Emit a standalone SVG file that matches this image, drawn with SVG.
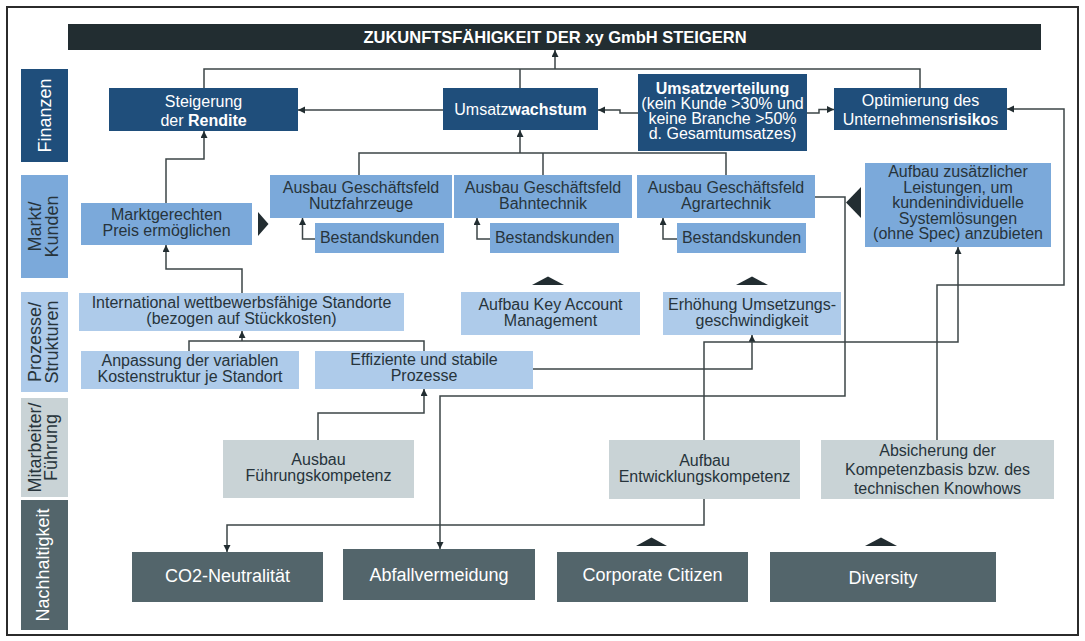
<svg xmlns="http://www.w3.org/2000/svg" width="1085" height="641" viewBox="0 0 1085 641">
<defs>
<style>
text{font-family:"Liberation Sans",Arial,sans-serif;}
.t{font-size:16px;fill:#27343b;text-anchor:middle}
.w{font-size:16px;fill:#ffffff;text-anchor:middle}
.lab{font-size:18px;fill:#27343b;text-anchor:middle}
.labw{font-size:18px;fill:#ffffff;text-anchor:middle}
.big{font-size:18px;fill:#ffffff;text-anchor:middle}
.b{font-weight:bold}
.db{fill:#1f4e7b}
.mb{fill:#7ba9da}
.lb{fill:#aecbea}
.lg{fill:#c9d3d6}
.ds{fill:#53656b}
.c{fill:none;stroke:#3d4547;stroke-width:1.5}
.ca{fill:none;stroke:#3d4547;stroke-width:1.5;marker-end:url(#a)}
.tri{fill:#222d31}
</style>
<marker id="a" markerUnits="userSpaceOnUse" markerWidth="8" markerHeight="8" refX="7" refY="3.5" orient="auto"><path d="M0,0 L7,3.5 L0,7 z" fill="#222d31"/></marker>
</defs>
<rect x="0" y="0" width="1085" height="641" fill="#ffffff"/>
<rect x="7" y="7" width="1071" height="628" fill="none" stroke="#2b2b2b" stroke-width="2"/>

<g id="lanes">
<rect class="db" x="21" y="69" width="47" height="93"/>
<text class="labw" transform="translate(51,115.5) rotate(-90)">Finanzen</text>
<rect class="mb" x="21" y="175" width="47" height="103"/>
<text class="lab" transform="translate(41,226.5) rotate(-90)">Markt/</text>
<text class="lab" transform="translate(58,226.5) rotate(-90)">Kunden</text>
<rect class="lb" x="21" y="292" width="47" height="100"/>
<text class="lab" transform="translate(41,342) rotate(-90)">Prozesse/</text>
<text class="lab" transform="translate(58,342) rotate(-90)">Strukturen</text>
<rect class="lg" x="21" y="398" width="47" height="99"/>
<text class="lab" transform="translate(41,447.5) rotate(-90)">Mitarbeiter/</text>
<text class="lab" transform="translate(57,447.5) rotate(-90)">Führung</text>
<rect class="ds" x="21" y="500" width="47" height="130"/>
<text class="labw" transform="translate(49,565) rotate(-90)">Nachhaltigkeit</text>
</g>

<g id="connectors">
<path class="c" d="M204,88 V69 H920 V88"/>
<path class="c" d="M520,88 V69"/>
<path class="ca" d="M555,69 V50"/>
<path class="ca" d="M443,110 H298"/>
<path class="ca" d="M638,113 H620 V110 H598"/>
<path class="ca" d="M807,113 H819 V109.5 H834"/>
<path class="ca" d="M937,440 V285 H1064 V109 H1007"/>
<path class="c" d="M359,175 V153 H726 V175"/>
<path class="c" d="M543,175 V153"/>
<path class="ca" d="M520,153 V130"/>
<path class="ca" d="M315,239 H302.5 V218"/>
<path class="ca" d="M490,239 H477 V218"/>
<path class="ca" d="M677,239 H663 V218"/>
<path class="ca" d="M166,203 V159 H204 V131"/>
<path class="ca" d="M242,293 V269 H166 V245"/>
<path class="c" d="M189,351 V341 H424 V351"/>
<path class="ca" d="M242,341 V331"/>
<path class="ca" d="M318,440 V413 H424 V389"/>
<path class="ca" d="M533,369 H752 V335"/>
<path class="ca" d="M704,440 V342 H958 V247"/>
<path class="ca" d="M704,499 V525 H227 V552"/>
<path class="ca" d="M815,197 H845 V396 H440 V549"/>
</g>

<g id="title">
<rect x="68" y="24" width="973" height="26" fill="#222d31"/>
<text x="555" y="43" font-size="16.5" font-weight="bold" fill="#ffffff" text-anchor="middle">ZUKUNFTSFÄHIGKEIT DER xy GmbH STEIGERN</text>
</g>

<g id="rendite">
<rect class="db" x="109" y="88" width="189" height="43"/>
<text class="w" x="203.5" y="106.5">Steigerung</text>
<text class="w" x="203.5" y="126">der <tspan class="b">Rendite</tspan></text>
</g>

<g id="umsatzwachstum">
<rect class="db" x="443" y="88" width="155" height="42"/>
<text class="w" x="520.5" y="115">Umsatz<tspan class="b">wachstum</tspan></text>
</g>

<g id="umsatzverteilung">
<rect class="db" x="638" y="74" width="169" height="77"/>
<text class="w b" x="722.5" y="94">Umsatzverteilung</text>
<text class="w" x="722.5" y="109">(kein Kunde &gt;30% und</text>
<text class="w" x="722.5" y="124">keine Branche &gt;50%</text>
<text class="w" x="722.5" y="139">d. Gesamtumsatzes)</text>
</g>

<g id="risiko">
<rect class="db" x="834" y="88" width="173" height="42"/>
<text class="w" x="920.5" y="106">Optimierung des</text>
<text class="w" x="920.5" y="125">Unternehmens<tspan class="b">risiko</tspan>s</text>
</g>

<g id="preis">
<rect class="mb" x="81" y="203" width="171" height="42"/>
<text class="t" x="166.5" y="219.5">Marktgerechten</text>
<text class="t" x="166.5" y="235.5">Preis ermöglichen</text>
<polygon class="tri" points="258,212 268.5,224 258,236"/>
</g>

<g id="nutzfahrzeuge">
<rect class="mb" x="270" y="175" width="182" height="43"/>
<text class="t" x="361" y="192.5">Ausbau Geschäftsfeld</text>
<text class="t" x="361" y="208.5">Nutzfahrzeuge</text>
</g>
<g id="bestand1">
<rect class="mb" x="315" y="223" width="129" height="30"/>
<text class="t" x="379.5" y="243">Bestandskunden</text>
</g>

<g id="bahntechnik">
<rect class="mb" x="454" y="175" width="178" height="43"/>
<text class="t" x="543" y="192.5">Ausbau Geschäftsfeld</text>
<text class="t" x="543" y="208.5">Bahntechnik</text>
</g>
<g id="bestand2">
<rect class="mb" x="490" y="223" width="129" height="30"/>
<text class="t" x="554.5" y="243">Bestandskunden</text>
</g>

<g id="agrartechnik">
<rect class="mb" x="637" y="175" width="178" height="43"/>
<text class="t" x="726" y="192.5">Ausbau Geschäftsfeld</text>
<text class="t" x="726" y="208.5">Agrartechnik</text>
</g>
<g id="bestand3">
<rect class="mb" x="677" y="223" width="129" height="30"/>
<text class="t" x="741.5" y="243">Bestandskunden</text>
</g>

<g id="leistungen">
<polygon class="tri" points="861,187 846,202.5 861,218"/>
<rect class="mb" x="865" y="163" width="186" height="84"/>
<text class="t" x="958" y="177">Aufbau zusätzlicher</text>
<text class="t" x="958" y="192.5">Leistungen, um</text>
<text class="t" x="958" y="208">kundenindividuelle</text>
<text class="t" x="958" y="223.5">Systemlösungen</text>
<text class="t" x="958" y="239">(ohne Spec) anzubieten</text>
</g>

<g id="standorte">
<rect class="lb" x="79" y="293" width="325" height="38"/>
<text class="t" x="241.5" y="307.5">International wettbewerbsfähige Standorte</text>
<text class="t" x="241.5" y="323.5">(bezogen auf Stückkosten)</text>
</g>

<g id="keyaccount">
<polygon class="tri" points="532,285 548,276.5 564,285"/>
<rect class="lb" x="461" y="292" width="179" height="43"/>
<text class="t" x="550.5" y="309.5">Aufbau Key Account</text>
<text class="t" x="550.5" y="325.5">Management</text>
</g>

<g id="umsetzung">
<polygon class="tri" points="736,285 752,276.5 768,285"/>
<rect class="lb" x="663" y="292" width="178" height="43"/>
<text class="t" x="752" y="309.5">Erhöhung Umsetzungs-</text>
<text class="t" x="752" y="325.5">geschwindigkeit</text>
</g>

<g id="anpassung">
<rect class="lb" x="81" y="351" width="218" height="38"/>
<text class="t" x="190" y="365.5">Anpassung der variablen</text>
<text class="t" x="190" y="381.5">Kostenstruktur je Standort</text>
</g>

<g id="prozesse">
<rect class="lb" x="315" y="351" width="218" height="38"/>
<text class="t" x="424" y="365">Effiziente und stabile</text>
<text class="t" x="424" y="381">Prozesse</text>
</g>

<g id="fuehrung">
<rect class="lg" x="223" y="440" width="191" height="58"/>
<text class="t" x="318.5" y="465">Ausbau</text>
<text class="t" x="318.5" y="481">Führungskompetenz</text>
</g>

<g id="entwicklung">
<rect class="lg" x="609" y="440" width="191" height="59"/>
<text class="t" x="704.5" y="466">Aufbau</text>
<text class="t" x="704.5" y="482">Entwicklungskompetenz</text>
</g>

<g id="knowhow">
<rect class="lg" x="821" y="440" width="233" height="59"/>
<text class="t" x="937.5" y="456">Absicherung der</text>
<text class="t" x="937.5" y="475">Kompetenzbasis bzw. des</text>
<text class="t" x="937.5" y="493.5">technischen Knowhows</text>
</g>

<g id="co2">
<rect class="ds" x="132" y="552" width="191" height="50"/>
<text class="big" x="227.5" y="582">CO2-Neutralität</text>
</g>

<g id="abfall">
<rect class="ds" x="343" y="549" width="192" height="51"/>
<text class="big" x="439" y="581">Abfallvermeidung</text>
</g>

<g id="citizen">
<polygon class="tri" points="636,546 651.5,537.5 667,546"/>
<rect class="ds" x="557" y="552" width="191" height="50"/>
<text class="big" x="652.5" y="581">Corporate Citizen</text>
</g>

<g id="diversity">
<polygon class="tri" points="865,546 881,537.5 897,546"/>
<rect class="ds" x="770" y="552" width="226" height="50"/>
<text class="big" x="883" y="583.5">Diversity</text>
</g>
</svg>
